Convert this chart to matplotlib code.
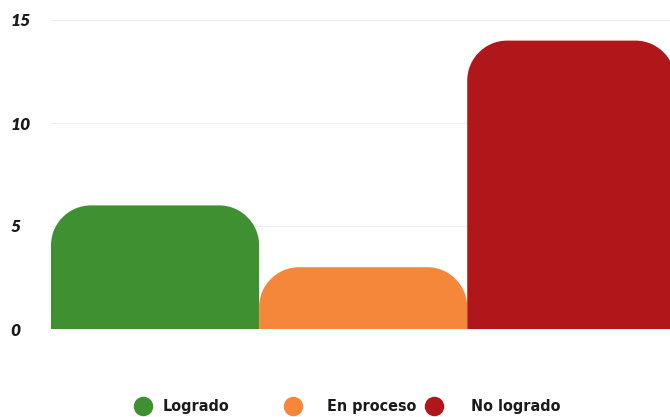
import matplotlib
matplotlib.use("Agg")
import matplotlib.pyplot as plt
from matplotlib.path import Path
from matplotlib.patches import PathPatch
from matplotlib.lines import Line2D

categories = ["Logrado", "En proceso", "No logrado"]
values = [6, 3, 14]
colors = ["#3e9031", "#f5873a", "#b0171a"]
yticks = [0, 5, 10, 15]

fig = plt.figure(figsize=(6.7, 4.17), dpi=100)
ax = fig.add_axes([51/670, (417-329)/417, 1 - 51/670 + 0.008, (329-20)/417])
ax.set_xlim(-0.5, 2.5)
ax.set_ylim(0, 15)

fig.canvas.draw()
def rounded_bar(x0, w, h, rpx=40):
    bbox = ax.get_window_extent()
    sx = (ax.get_xlim()[1]-ax.get_xlim()[0]) / bbox.width
    sy = (ax.get_ylim()[1]-ax.get_ylim()[0]) / bbox.height
    rx = rpx * sx
    ry = min(rpx * sy, h)
    k = 0.5523
    x1 = x0 + w
    verts = [(x0, 0), (x0, h-ry),
             (x0, h-ry+k*ry), (x0+rx-k*rx, h), (x0+rx, h),
             (x1-rx, h),
             (x1-rx+k*rx, h), (x1, h-ry+k*ry), (x1, h-ry),
             (x1, 0), (x0, 0)]
    codes = [Path.MOVETO, Path.LINETO,
             Path.CURVE4, Path.CURVE4, Path.CURVE4,
             Path.LINETO,
             Path.CURVE4, Path.CURVE4, Path.CURVE4,
             Path.LINETO, Path.CLOSEPOLY]
    return PathPatch(Path(verts, codes), linewidth=0, zorder=3)

for i, (v, c) in enumerate(zip(values, colors)):
    p = rounded_bar(i - 0.5, 1.0, v)
    p.set_facecolor(c)
    ax.add_patch(p)

ax.set_yticks(yticks)
ax.set_yticklabels([str(t) for t in yticks], fontsize=12.5, fontweight="heavy",
                   fontstyle="italic", family="Lato", color="#1a1a1a")
ax.set_xticks([])
ax.tick_params(axis="y", length=0, pad=29)
for lbl in ax.get_yticklabels():
    lbl.set_horizontalalignment("left")
for s in ax.spines.values():
    s.set_visible(False)
ax.grid(axis="y", color="#eeeeee", linewidth=0.8, zorder=0)
ax.set_axisbelow(True)

# legend drawn manually at the bottom
W, H = 670, 417
circle_x = [143, 293, 434]
text_x = [163, 327, 471]
ly = (H - 406) / H
for cx, tx, c, name in zip(circle_x, text_x, colors, categories):
    fig.add_artist(Line2D([cx / W], [ly], marker="o", markersize=13,
                          markerfacecolor=c, markeredgecolor=c,
                          transform=fig.transFigure, linestyle="none"))
    fig.text(tx / W, ly, name, ha="left", va="center", fontsize=11.5,
             fontweight="bold", family="DejaVu Sans", fontstretch="condensed",
             color="#1a1a1a")

fig.savefig("out.png", dpi=100)
